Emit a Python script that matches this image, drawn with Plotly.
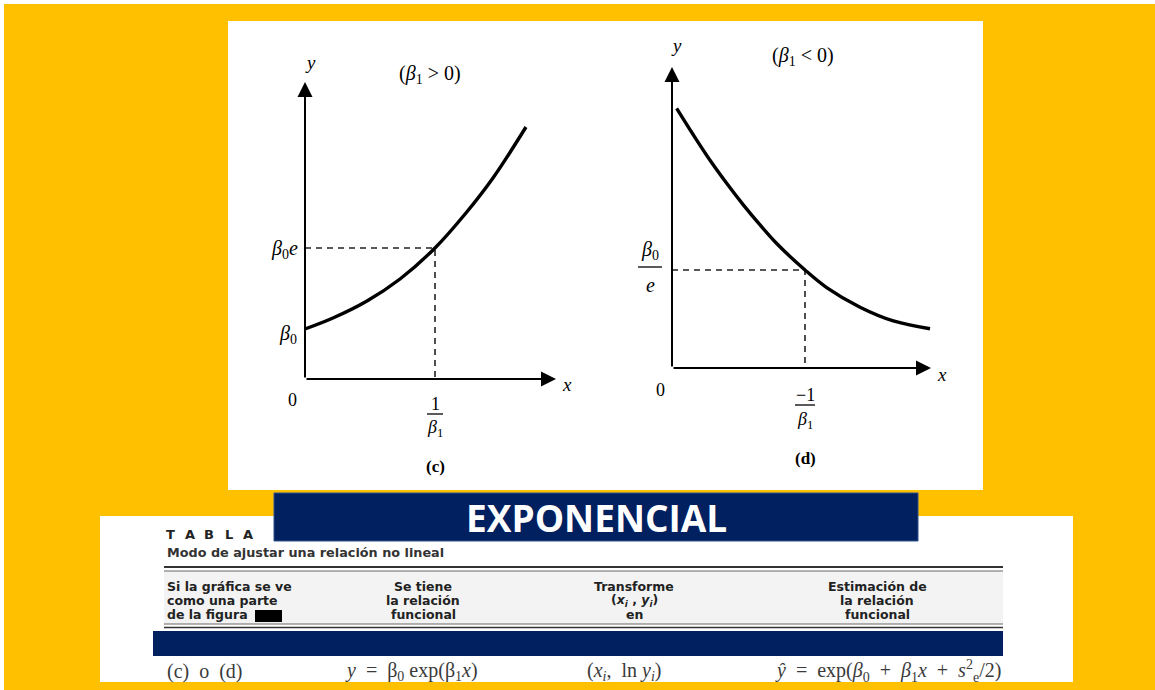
import plotly.graph_objects as go

# ---------------------------------------------------------------- data
# Panel (c): growth curve, x in units of 1/β1, y in units of β0
c_x = [0.0, 0.215, 0.477, 0.731, 1.0, 1.238, 1.446, 1.70]
c_y = [1.0, 1.22, 1.56, 2.0, 2.62, 3.32, 4.02, 5.04]
c_mark_x = 1.0     # 1/β1
c_mark_y = 2.62    # β0·e
c_base_y = 1.0     # β0

# Panel (d): decay curve, x in units of -1/β1, y in units of β0/e
d_x = [0.035, 0.160, 0.286, 0.411, 0.536, 0.662, 0.787, 1.0, 1.163, 1.414, 1.664, 1.940]
d_y = [2.65, 2.38, 2.12, 1.885, 1.665, 1.46, 1.27, 1.0, 0.82, 0.62, 0.48, 0.40]
d_mark_x = 1.0     # -1/β1
d_mark_y = 1.0     # β0/e

# Table text
NB = "\u00a0"
table_title = "TABLA"
table_subtitle = "Modo de ajustar una relación no lineal"
header_cols = [
    ["Si la gráfica se ve", "como una parte", "de la figura"],
    ["Se tiene", "la relación", "funcional"],
    ["Transforme", "(<i>x<sub>i</sub></i> , <i>y<sub>i</sub></i>)", "en"],
    ["Estimación de", "la relación", "funcional"],
]
row_cells = [
    f"(c){NB}{NB}o{NB}{NB}(d)",
    f"<i>y</i>{NB}{NB}={NB}{NB}β<sub>0</sub>{NB}exp(β<sub>1</sub><i>x</i>)",
    f"(<i>x<sub>i</sub></i>,{NB}{NB}ln{NB}<i>y<sub>i</sub></i>)",
    f"<i>ŷ</i>{NB}{NB}={NB}{NB}exp(<i>β</i><sub>0</sub>{NB}{NB}+{NB}{NB}<i>β</i><sub>1</sub><i>x</i>"
    f"{NB}{NB}+{NB}{NB}<i>s</i><sup>2</sup><sub>e</sub>/2)",
]
banner_text = "EXPONENCIAL"

# ---------------------------------------------------------------- layout helpers
W, H = 1155, 690
YELLOW = "#FFC000"
NAVY = "#002060"
SERIF = "Liberation Serif, Times New Roman, serif"
SANS = "DejaVu Sans, Arial, sans-serif"


def fx(x):
    return x / W


def fy(y):
    return 1 - y / H


shapes = []
annotations = []


def rect(x0, y0, x1, y1, fill, line_color=None, line_width=0):
    shapes.append(dict(type="rect", xref="paper", yref="paper",
                       x0=fx(x0), x1=fx(x1), y0=fy(y1), y1=fy(y0),
                       fillcolor=fill, layer="below",
                       line=dict(color=line_color or fill, width=line_width)))


def hline(x0, x1, y, color, width):
    shapes.append(dict(type="line", xref="paper", yref="paper",
                       x0=fx(x0), x1=fx(x1), y0=fy(y), y1=fy(y),
                       line=dict(color=color, width=width)))


def text(x, y, s, size=15, font=SERIF, color="black", xanchor="center", bold=False):
    annotations.append(dict(xref="paper", yref="paper", x=fx(x), y=fy(y),
                            text=f"<b>{s}</b>" if bold else s, showarrow=False,
                            xanchor=xanchor, yanchor="middle",
                            font=dict(family=font, size=size, color=color)))


def frac(x, y_num, y_bar, y_den, num, den, half=11, size=18):
    text(x, y_num, num, size=size)
    hline(x - half, x + half, y_bar, "black", 1.3)
    text(x, y_den, den, size=size)


# ---------------------------------------------------------------- backgrounds
rect(4, 4, W, H, YELLOW)
rect(228, 21, 983, 490, "white")
rect(100, 516, 1073, 682, "white")
rect(274, 493, 918, 541, NAVY, line_color="#2F528F", line_width=1)
text(596, 517, banner_text, size=37, font="Open Sans, sans-serif", color="white", bold=True)

# ---------------------------------------------------------------- subplots
fig = go.Figure()

# pixel mapping of each panel: origin pixel + pixels per unit
C_OX, C_OY, C_UX, C_UY = 305, 379, 130, 50
D_OX, D_OY, D_UX, D_UY = 672, 368, 133, 98
C_BOX = (240, 600, 40, 445)
D_BOX = (615, 975, 30, 445)


def axes_for(box, ox, oy, ux, uy):
    px0, px1, py0, py1 = box
    xa = dict(domain=[fx(px0), fx(px1)], range=[(px0 - ox) / ux, (px1 - ox) / ux],
              visible=False, fixedrange=True)
    ya = dict(domain=[fy(py1), fy(py0)], range=[(oy - py1) / uy, (oy - py0) / uy],
              visible=False, fixedrange=True)
    return xa, ya


xa1, ya1 = axes_for(C_BOX, C_OX, C_OY, C_UX, C_UY)
xa2, ya2 = axes_for(D_BOX, D_OX, D_OY, D_UX, D_UY)
ya1["anchor"] = "x"
xa1["anchor"] = "y"
ya2["anchor"] = "x2"
xa2["anchor"] = "y2"

dash = dict(color="#222", width=1.6, dash="6px,5px")
curve_line = dict(color="black", width=3.4, shape="spline", smoothing=1.0)

# panel (c)
fig.add_trace(go.Scatter(x=[0, c_mark_x, c_mark_x], y=[c_mark_y, c_mark_y, 0],
                         mode="lines", line=dash, xaxis="x", yaxis="y", hoverinfo="skip"))
fig.add_trace(go.Scatter(x=c_x, y=c_y, mode="lines", line=curve_line,
                         xaxis="x", yaxis="y", hoverinfo="skip"))

# panel (d)
fig.add_trace(go.Scatter(x=[0, d_mark_x, d_mark_x], y=[d_mark_y, d_mark_y, 0],
                         mode="lines", line=dash, xaxis="x2", yaxis="y2", hoverinfo="skip"))
fig.add_trace(go.Scatter(x=d_x, y=d_y, mode="lines", line=curve_line,
                         xaxis="x2", yaxis="y2", hoverinfo="skip"))


def arrow(xref, yref, x0, y0, x1, y1):
    annotations.append(dict(xref=xref, yref=yref, axref=xref, ayref=yref,
                            x=x1, y=y1, ax=x0, ay=y0, text="", showarrow=True,
                            arrowhead=2, arrowsize=1.5, arrowwidth=2, arrowcolor="black"))


# coordinate axes with arrowheads
arrow("x", "y", 0, 0, 0, (C_OY - 82) / C_UY)
arrow("x", "y", 0, 0, (556 - C_OX) / C_UX, 0)
arrow("x2", "y2", 0, 0, 0, (D_OY - 67) / D_UY)
arrow("x2", "y2", 0, 0, (931 - D_OX) / D_UX, 0)

# labels, panel (c)
text(310, 62, "<i>y</i>", size=19)
text(430, 74, "(<i>β</i><sub>1</sub> > 0)", size=20)
text(300, 249, "<i>β</i><sub>0</sub><i>e</i>", size=20, xanchor="right")
text(299, 334, "<i>β</i><sub>0</sub>", size=20, xanchor="right")
text(292, 400, "0", size=18)
frac(435, 404, 414, 428, "1", "<i>β</i><sub>1</sub>", half=8)
text(435, 466, "<b>(c)</b>", size=17)
text(567, 384, "<i>x</i>", size=19)

# labels, panel (d)
text(676, 46, "<i>y</i>", size=19)
text(803, 57, "(<i>β</i><sub>1</sub> < 0)", size=20)
frac(650, 250, 267, 285, "<i>β</i><sub>0</sub>", "<i>e</i>", half=12, size=20)
text(660, 390, "0", size=18)
frac(805, 395, 405, 421, "−1", "<i>β</i><sub>1</sub>", half=10)
text(805, 458, "<b>(d)</b>", size=17)
text(942, 374, "<i>x</i>", size=19)

# ---------------------------------------------------------------- table
TL, TR = 164, 1003
for i, ch in enumerate(table_title):
    text(170 + i * 19.6, 534, ch, size=13, font=SANS, color="#222", bold=True)
text(TL + 1, 552, table_subtitle, size=12.8, font=SANS, color="#333", xanchor="left", bold=True)

rect(TL, 571, TR, 624, "#f3f3f3")
hline(TL, TR, 567, "#333", 2)
hline(TL, TR, 571, "#666", 1)
hline(TL, TR, 624, "#666", 1)
hline(TL, TR, 627.5, "#333", 1.6)

col_x = [TL + 1, 423, 634, 877]
line_y = [586, 600, 614]
for ci, lines in enumerate(header_cols):
    for li, s in enumerate(lines):
        text(col_x[ci], line_y[li], s, size=12.5, font=SANS, color="#222",
             xanchor="left" if ci == 0 else "center", bold=True)
rect(255, 610, 282, 622, "black")

rect(153, 631, TR, 656, NAVY)

row_x = [TL + 1, 411, 624, TR]
row_anchor = ["left", "center", "center", "right"]
for s, x, a in zip(row_cells, row_x, row_anchor):
    text(x, 671, s, size=20, font=SERIF, color="#3a3a3a", xanchor=a)

fig.update_layout(
    width=W, height=H,
    margin=dict(l=0, r=0, t=0, b=0),
    paper_bgcolor="white",
    plot_bgcolor="rgba(0,0,0,0)",
    showlegend=False,
    xaxis=xa1, yaxis=ya1, xaxis2=xa2, yaxis2=ya2,
    shapes=shapes,
    annotations=annotations,
)

fig.write_html("out.html", config={"displayModeBar": False})
